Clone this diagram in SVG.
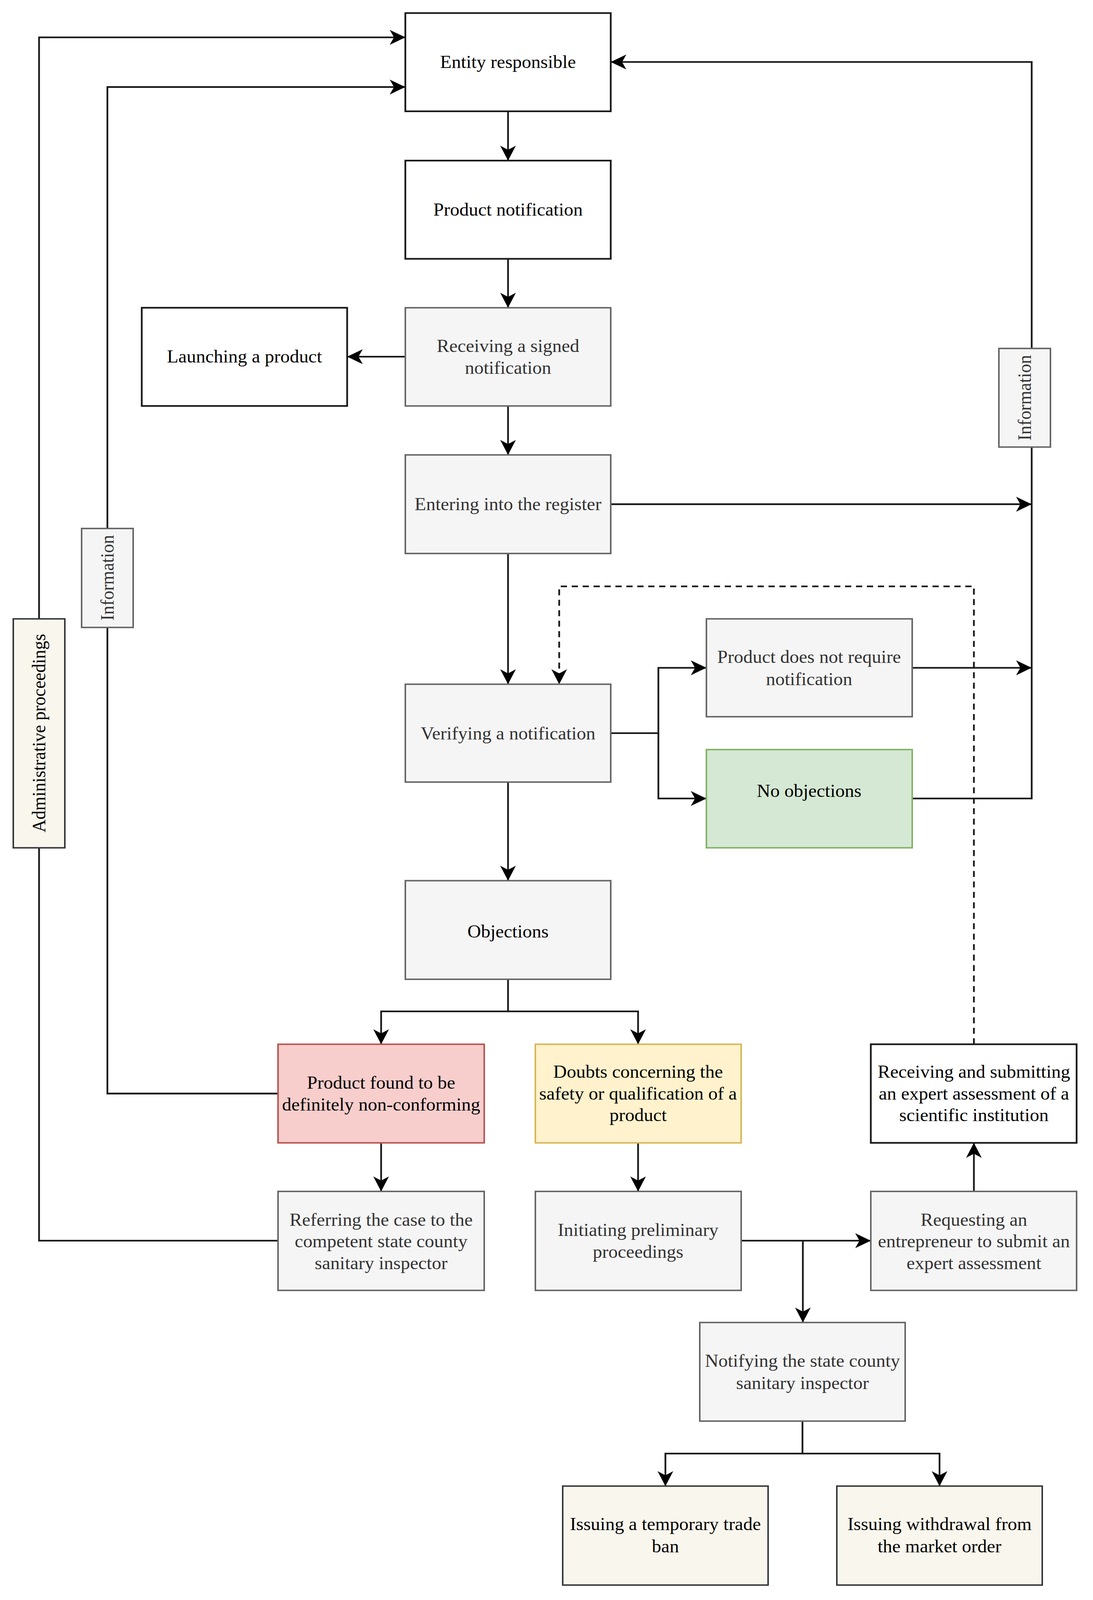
<svg xmlns="http://www.w3.org/2000/svg" width="2799" height="4284" viewBox="0 0 2799 4284" preserveAspectRatio="none">
<style>
:root{width:100vw;height:100vh;}
.t{font-family:"Liberation Serif","Times New Roman",serif;font-size:48px;text-anchor:middle;}
.dk{fill:#000000;}
.gt{fill:#333333;}
.bk{fill:#ffffff;stroke:#1a1a1a;stroke-width:4.5;}
.gr{fill:#f5f5f5;stroke:#666666;stroke-width:4;}
.gn{fill:#d5e8d4;stroke:#82b366;stroke-width:4;}
.rd{fill:#f8cecc;stroke:#b85450;stroke-width:4;}
.yl{fill:#fff2cc;stroke:#d6b656;stroke-width:4;}
.cr{fill:#f9f7ed;stroke:#36393d;stroke-width:4;}
.c{fill:none;stroke:#1a1a1a;stroke-width:4.5;}
.a{marker-end:url(#arr);}
.d{stroke-dasharray:16 12;}
</style>
<defs>
<marker id="arr" markerUnits="userSpaceOnUse" viewBox="-42 -22 44 44" markerWidth="44" markerHeight="44" refX="0" refY="0" orient="auto">
<path d="M0,0 L-40,-20 L-29,0 L-40,20 Z" fill="#000000"/>
</marker>
</defs>
<rect width="2799" height="4284" fill="#ffffff"/>
<g id="connectors">
<path class="c a" d="M1301,298 V430"/>
<path class="c a" d="M1301,693 V824"/>
<path class="c a" d="M1038,955 H889"/>
<path class="c a" d="M1301,1087 V1218"/>
<path class="c a" d="M1301,1482 V1832"/>
<path class="c a" d="M1564,1350 H2642"/>
<path class="c a" d="M1564,1963 H1686 V1788 H1809"/>
<path class="c a" d="M1686,1963 V2138 H1809"/>
<path class="c a" d="M2336,1788 H2642"/>
<path class="c a" d="M2336,2138 H2642 V166 H1564"/>
<path class="c a" d="M1301,2094 V2358"/>
<path class="c a" d="M1301,2622 V2708 H976 V2796"/>
<path class="c a" d="M1301,2708 H1634 V2796"/>
<path class="c a" d="M712,2928 H275 V233 H1038"/>
<path class="c a" d="M976,3060 V3190"/>
<path class="c a" d="M712,3322 H100 V100 H1038"/>
<path class="c a" d="M1634,3060 V3190"/>
<path class="c a" d="M1898,3322 H2230"/>
<path class="c a" d="M2056,3322 V3541"/>
<path class="c a" d="M2494,3190 V3060"/>
<path class="c a d" d="M2494,2796 V1570 H1432 V1832"/>
<path class="c a" d="M2055,3805 V3892 H1704 V3979"/>
<path class="c a" d="M2055,3892 H2406 V3979"/>
</g>
<g id="entity-responsible">
<rect class="bk" x="1038" y="35" width="526" height="263"/>
<text class="t dk" x="1301" y="182">Entity responsible</text>
</g>
<g id="product-notification">
<rect class="bk" x="1038" y="430" width="526" height="263"/>
<text class="t dk" x="1301" y="577">Product notification</text>
</g>
<g id="launching-product">
<rect class="bk" x="363" y="824" width="526" height="263"/>
<text class="t dk" x="626" y="971">Launching a product</text>
</g>
<g id="receiving-signed">
<rect class="gr" x="1038" y="824" width="526" height="263"/>
<text class="t gt" x="1301" y="942">Receiving a signed</text>
<text class="t gt" x="1301" y="1001">notification</text>
</g>
<g id="entering-register">
<rect class="gr" x="1038" y="1218" width="526" height="264"/>
<text class="t gt" x="1301" y="1366">Entering into the register</text>
</g>
<g id="verifying">
<rect class="gr" x="1038" y="1832" width="526" height="262"/>
<text class="t gt" x="1301" y="1980">Verifying a notification</text>
</g>
<g id="not-require">
<rect class="gr" x="1809" y="1657" width="527" height="262"/>
<text class="t gt" x="2072" y="1775">Product does not require</text>
<text class="t gt" x="2072" y="1834">notification</text>
</g>
<g id="no-objections">
<rect class="gn" x="1809" y="2007" width="527" height="263"/>
<text class="t dk" x="2072" y="2134">No objections</text>
</g>
<g id="objections">
<rect class="gr" x="1038" y="2358" width="526" height="264"/>
<text class="t dk" x="1301" y="2510">Objections</text>
</g>
<g id="product-found">
<rect class="rd" x="712" y="2796" width="528" height="264"/>
<text class="t dk" x="976" y="2915">Product found to be</text>
<text class="t dk" x="976" y="2974">definitely non-conforming</text>
</g>
<g id="doubts">
<rect class="yl" x="1371" y="2796" width="527" height="264"/>
<text class="t dk" x="1634" y="2886">Doubts concerning the</text>
<text class="t dk" x="1634" y="2944">safety or qualification of a</text>
<text class="t dk" x="1634" y="3002">product</text>
</g>
<g id="receiving-expert">
<rect class="bk" x="2230" y="2796" width="527" height="264"/>
<text class="t dk" x="2494" y="2886">Receiving and submitting</text>
<text class="t dk" x="2494" y="2944">an expert assessment of a</text>
<text class="t dk" x="2494" y="3002">scientific institution</text>
</g>
<g id="referring">
<rect class="gr" x="712" y="3190" width="528" height="265"/>
<text class="t gt" x="976" y="3282">Referring the case to the</text>
<text class="t gt" x="976" y="3340">competent state county</text>
<text class="t gt" x="976" y="3398">sanitary inspector</text>
</g>
<g id="initiating">
<rect class="gr" x="1371" y="3190" width="527" height="265"/>
<text class="t gt" x="1634" y="3309">Initiating preliminary</text>
<text class="t gt" x="1634" y="3368">proceedings</text>
</g>
<g id="requesting">
<rect class="gr" x="2230" y="3190" width="527" height="265"/>
<text class="t gt" x="2494" y="3282">Requesting an</text>
<text class="t gt" x="2494" y="3340">entrepreneur to submit an</text>
<text class="t gt" x="2494" y="3398">expert assessment</text>
</g>
<g id="notifying">
<rect class="gr" x="1792" y="3541" width="526" height="264"/>
<text class="t gt" x="2055" y="3660">Notifying the state county</text>
<text class="t gt" x="2055" y="3719">sanitary inspector</text>
</g>
<g id="temporary-ban">
<rect class="cr" x="1441" y="3979" width="526" height="265"/>
<text class="t dk" x="1704" y="4097">Issuing a temporary trade</text>
<text class="t dk" x="1704" y="4156">ban</text>
</g>
<g id="withdrawal">
<rect class="cr" x="2143" y="3979" width="526" height="265"/>
<text class="t dk" x="2406" y="4097">Issuing withdrawal from</text>
<text class="t dk" x="2406" y="4156">the market order</text>
</g>
<g id="label-admin">
<rect class="cr" x="34" y="1657" width="132" height="613"/>
<text class="t dk" transform="translate(116,1963) rotate(-90)" x="0" y="0">Administrative proceedings</text>
</g>
<g id="label-info-left">
<rect class="gr" x="209" y="1415" width="132" height="265"/>
<text class="t gt" transform="translate(291,1547) rotate(-90)" x="0" y="0">Information</text>
</g>
<g id="label-info-right">
<rect class="gr" x="2558" y="933" width="132" height="264"/>
<text class="t gt" transform="translate(2640,1065) rotate(-90)" x="0" y="0">Information</text>
</g>
</svg>
